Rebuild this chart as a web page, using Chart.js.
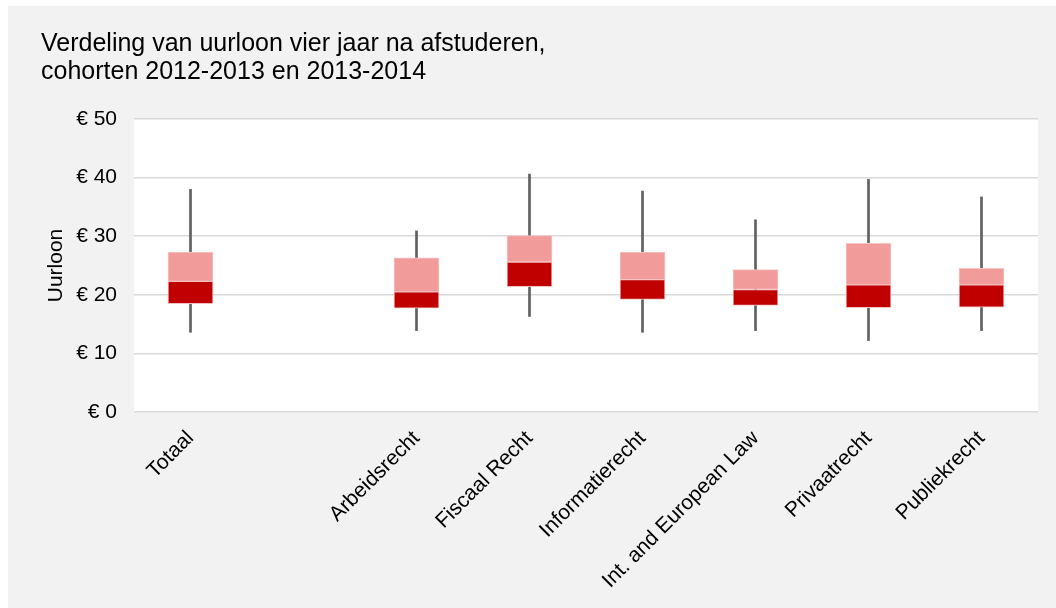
<!DOCTYPE html>
<html>
<head>
<meta charset="utf-8">
<script src="https://cdn.jsdelivr.net/npm/chart.js@4/dist/chart.umd.min.js"></script>
<style>
  body { margin: 0; background: #fff; }
  #wrap { position: absolute; left: 8px; top: 6px; width: 1048px; height: 602px; background: #f2f2f2; }
</style>
</head>
<body>
<div id="wrap"><canvas id="chart"></canvas></div>
<script>
// categorieën (lege plek tussen Totaal en de afstudeerrichtingen)
const categories = ['Totaal', '', 'Arbeidsrecht', 'Fiscaal Recht', 'Informatierecht', 'Int. and European Law', 'Privaatrecht', 'Publiekrecht'];

// uurloon in euro's
const minVals = [13.6, null, 13.9, 16.3, 13.6, 13.9, 12.2, 13.9];
const q1Vals  = [18.5, null, 17.7, 21.4, 19.2, 18.2, 17.8, 17.9];
const medVals = [22.3, null, 20.5, 25.6, 22.6, 20.9, 21.7, 21.7];
const q3Vals  = [27.3, null, 26.3, 30.1, 27.3, 24.3, 28.8, 24.5];
const maxVals = [38.0, null, 30.9, 40.6, 37.7, 32.8, 39.7, 36.7];

const yTicks = [0, 10, 20, 30, 40, 50];

const pair = (a, b) => a.map((v, i) => (v == null ? null : [v, b[i]]));

const font = "'Liberation Sans', Arial, sans-serif";

// witte plotachtergrond
const plotBg = {
  id: 'plotBg',
  beforeDraw(chart) {
    const { ctx, chartArea: a } = chart;
    ctx.save();
    ctx.fillStyle = '#ffffff';
    ctx.fillRect(a.left, a.top, a.right - a.left, a.bottom - a.top);
    ctx.restore();
  }
};

new Chart(document.getElementById('chart'), {
  type: 'bar',
  data: {
    labels: categories,
    datasets: [
      { label: 'whisker', data: pair(minVals, maxVals), backgroundColor: '#606060', barThickness: 2, grouped: false, order: 3 },
      { label: 'Q1-mediaan', data: pair(q1Vals, medVals), backgroundColor: '#c00000', borderColor: '#f3c0c0', borderWidth: 1, borderSkipped: false, barThickness: 45, grouped: false, order: 1 },
      { label: 'mediaan-Q3', data: pair(medVals, q3Vals), backgroundColor: '#f19b9b', borderColor: '#f7c4c4', borderWidth: 1, borderSkipped: false, barThickness: 45, grouped: false, order: 2 }
    ]
  },
  options: {
    responsive: true,
    maintainAspectRatio: false,
    animation: false,
    layout: { padding: { left: 33, right: 18, top: 0, bottom: 0 } },
    plugins: {
      legend: { display: false },
      tooltip: { enabled: false },
      title: {
        display: true,
        text: ['Verdeling van uurloon vier jaar na afstuderen,', 'cohorten 2012-2013 en 2013-2014'],
        align: 'start',
        color: '#000',
        font: { family: font, size: 25, weight: 'normal', lineHeight: 1.12 },
        padding: { top: 24, bottom: 33 }
      }
    },
    scales: {
      x: {
        grid: { display: false },
        border: { display: false },
        ticks: {
          color: '#000', font: { family: font, size: 21 },
          minRotation: 45, maxRotation: 45, autoSkip: false, padding: 6
        },
        afterFit(scale) { scale.height = 196; }
      },
      y: {
        min: 0, max: 50,
        afterBuildTicks(scale) { scale.ticks = yTicks.map(v => ({ value: v })); },
        grid: { color: '#d9d9d9', lineWidth: 1.5, drawTicks: false },
        border: { display: false },
        ticks: { color: '#000', font: { family: font, size: 21 }, padding: 17, callback: v => '€ ' + v },
        title: { display: true, text: 'Uurloon', color: '#000', font: { family: font, size: 21 }, padding: { top: 3 } },
        afterFit(scale) { scale.width = 93; }
      }
    }
  },
  plugins: [plotBg]
});
</script>
</body>
</html>
